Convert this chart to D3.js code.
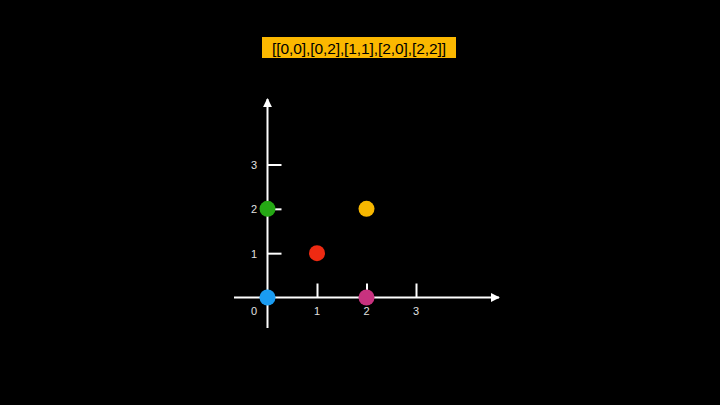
<!DOCTYPE html>
<html><head><meta charset="utf-8">
<script src="https://cdn.jsdelivr.net/npm/d3@7"></script>
<style>body{margin:0;background:#000}svg{display:block}</style>
</head><body>
<script>
const title = "[[0,0],[0,2],[1,1],[2,0],[2,2]]";
const xTicks = [1, 2, 3];
const yTicks = [1, 2, 3];
const pointsX = [0, 0, 1, 2, 2];
const pointsY = [0, 2, 1, 0, 2];
const pointColors = ["#1a9cf2", "#25a814", "#ee2a12", "#c8327f", "#f7b700"];
const order = [0, 3, 2, 4, 1];

const W = 720, H = 405;
const svg = d3.select("body").append("svg").attr("width", W).attr("height", H)
  .style("background", "#000");

const x = d3.scaleLinear().domain([0, 3]).range([267.5, 416]);
const y = d3.scaleLinear().domain([0, 3]).range([297.5, 164.5]);

// title
svg.append("rect").attr("x", 262).attr("y", 37).attr("width", 194).attr("height", 21).attr("fill", "#fbb800");
svg.append("text").attr("x", 359).attr("y", 53.5).attr("text-anchor", "middle")
  .attr("font-family", "Liberation Sans, Arial, sans-serif").attr("font-size", 15.5)
  .attr("textLength", 174).attr("fill", "#000").text(title);

const defs = svg.append("defs");
defs.append("marker").attr("id", "arr").attr("viewBox", "0 0 10 10").attr("refX", 9).attr("refY", 5)
  .attr("markerWidth", 9).attr("markerHeight", 9).attr("markerUnits", "userSpaceOnUse").attr("orient", "auto")
  .append("path").attr("d", "M0,0 L10,5 L0,10 Z").attr("fill", "#fff");

// axes lines
svg.append("line").attr("x1", 234).attr("y1", y(0)).attr("x2", 499).attr("y2", y(0))
  .attr("stroke", "#fff").attr("stroke-width", 2).attr("marker-end", "url(#arr)");
svg.append("line").attr("x1", x(0)).attr("y1", 328).attr("x2", x(0)).attr("y2", 99)
  .attr("stroke", "#fff").attr("stroke-width", 2).attr("marker-end", "url(#arr)");

// x ticks (upward)
const xAxis = d3.axisTop(x).tickValues(xTicks).tickSize(14).tickFormat("");
const gx = svg.append("g").attr("transform", `translate(0,${y(0)})`).call(xAxis);
gx.select(".domain").remove();
gx.selectAll(".tick line").attr("stroke", "#fff").attr("stroke-width", 2);

// y ticks (rightward)
const yAxis = d3.axisRight(y).tickValues(yTicks).tickSize(14).tickFormat("");
const gy = svg.append("g").attr("transform", `translate(${x(0)},0)`).call(yAxis);
gy.select(".domain").remove();
gy.selectAll(".tick line").attr("stroke", "#fff").attr("stroke-width", 2);

// labels
const lab = {"font-family": "Liberation Sans, Arial, sans-serif", "font-size": 11, "fill": "#e0e0e0"};
function applyAttrs(s){ for (const k in lab) s.attr(k, lab[k]); return s; }
applyAttrs(svg.selectAll(".xl").data([0].concat(xTicks)).enter().append("text")
  .attr("x", d => d === 0 ? 254 : x(d)).attr("y", 315).attr("text-anchor", "middle").text(d => d));
applyAttrs(svg.selectAll(".yl").data(yTicks).enter().append("text")
  .attr("x", 254).attr("y", d => y(d) + 4.5).attr("text-anchor", "middle").text(d => d));

// points
svg.selectAll("circle.pt").data(order).enter().append("circle").attr("class", "pt")
  .attr("cx", i => x(pointsX[i]))
  .attr("cy", i => y(pointsY[i]))
  .attr("r", 8).attr("fill", i => pointColors[i]);
</script>
</body></html>
